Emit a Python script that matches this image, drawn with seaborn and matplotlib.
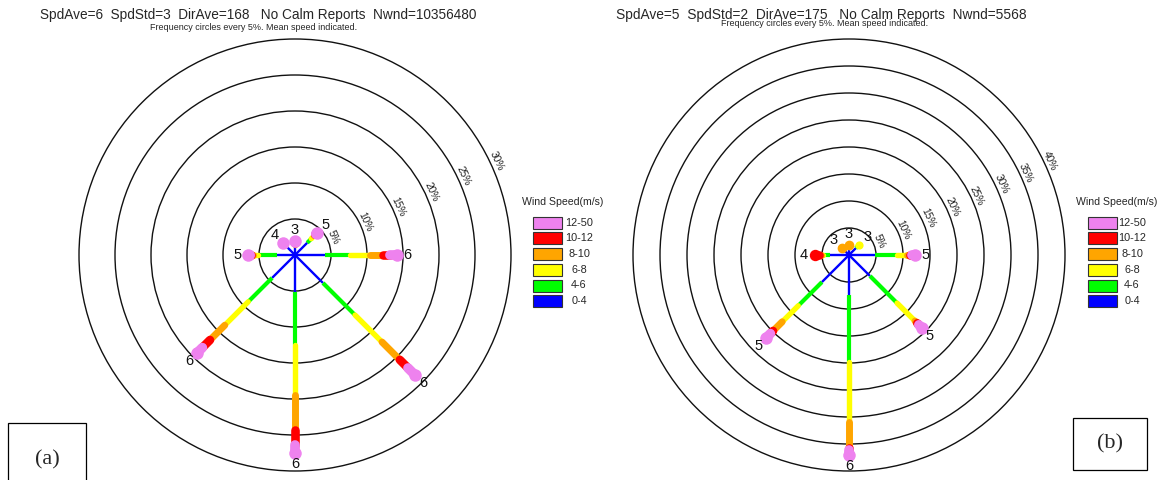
import numpy as np
import pandas as pd
import matplotlib
matplotlib.use("Agg")
import matplotlib.pyplot as plt
from matplotlib.patches import Rectangle, Circle
import seaborn as sns

sns.set_theme(style="white")
plt.rcParams["font.family"] = ["Liberation Sans", "DejaVu Sans"]

W, H = 1161, 480

# Compass directions of the arms (degrees clockwise from north)
directions = [0, 45, 90, 135, 180, 225, 270, 315]

# Speed classes (m/s) and their colours
classes = ["0-4", "4-6", "6-8", "8-10", "10-12", "12-50"]
class_colors = ["#0000ff", "#00ff00", "#ffff00", "#ffa500", "#ff0000", "#ee82ee"]

# Cumulative frequency (%) at the end of each speed class, per direction
freq_a = [
    [1.2, 1.4, 1.6, 1.7, 1.8, 2.0],       # N
    [2.4, 3.2, 3.8, 4.0, 4.1, 4.4],       # NE
    [4.2, 7.6, 10.4, 12.2, 13.2, 14.1],   # E
    [5.5, 11.8, 17.1, 20.6, 22.2, 23.6],  # SE
    [5.1, 12.5, 19.4, 24.3, 26.4, 27.5],  # S
    [4.5, 9.2, 13.8, 16.7, 18.2, 19.3],   # SW
    [2.5, 5.1, 5.8, 6.1, 6.3, 6.5],       # W
    [1.6, 1.9, 2.1, 2.2, 2.3, 2.4],       # NW
]
mean_a = [3, 5, 6, 6, 6, 6, 5, 4]

freq_b = [
    [1.2, 1.5, 1.7, 1.9, 1.9, 1.9],       # N
    [1.8, 2.4, 2.7, 2.7, 2.7, 2.7],       # NE
    [4.8, 8.9, 10.7, 11.3, 11.6, 12.2],   # E
    [5.5, 12.6, 17.3, 17.9, 18.3, 19.1],  # SE
    [7.4, 19.8, 30.9, 35.7, 36.1, 37.0],  # S
    [7.1, 13.3, 17.5, 19.9, 20.6, 21.7],  # SW
    [3.5, 4.8, 5.2, 5.5, 6.3, 6.3],       # W
    [1.2, 1.4, 1.6, 1.9, 1.9, 1.9],       # NW
]
mean_b = [3, 3, 5, 5, 6, 5, 4, 3]

rings_a = [5, 10, 15, 20, 25, 30]
rings_b = [5, 10, 15, 20, 25, 30, 35, 40]

title_a = "SpdAve=6  SpdStd=3  DirAve=168   No Calm Reports  Nwnd=10356480"
title_b = "SpdAve=5  SpdStd=2  DirAve=175   No Calm Reports  Nwnd=5568"
subtitle = "Frequency circles every 5%. Mean speed indicated."

class_widths = [1.7, 3.0, 3.9, 5.0, 6.2, 7.0]

fig = plt.figure(figsize=(W / 100, H / 100), dpi=100)


def fx(x):
    return x / W


def fy(y):
    return 1 - y / H


def rose(cx, cy, px_per_pct, freq, means, rings):
    half = 240
    ax = fig.add_axes([fx(cx - half), fy(cy + half), 2 * half / W, 2 * half / H])
    lim = half / px_per_pct

    # frequency circles with their labels
    for r in rings:
        ax.add_patch(Circle((0, 0), r, fill=False, edgecolor="#111111", lw=1.0))
        ang = np.deg2rad(25)
        rl = r + 6 / px_per_pct
        ax.text(rl * np.cos(ang), rl * np.sin(ang), f"{r}%", fontsize=7.3,
                rotation=-65, ha="center", va="center", color="#222222")

    # arms, one speed class at a time
    for d, cum, m in zip(directions, freq, means):
        th = np.deg2rad(d)
        sx, sy = np.sin(th), np.cos(th)
        prev = 0.0
        last = 0
        for k, c in enumerate(cum):
            if c > prev + 1e-9:
                cap = "butt" if k < 2 else "round"
                seg = pd.DataFrame({"x": [prev * sx, c * sx],
                                    "y": [prev * sy, c * sy]})
                sns.lineplot(data=seg, x="x", y="y", sort=False,
                             estimator=None, color=class_colors[k],
                             lw=class_widths[k], solid_capstyle=cap,
                             zorder=3 + k, ax=ax)
                last = k
            prev = c
        tip = cum[-1]
        ax.plot([tip * sx], [tip * sy], "o", color=class_colors[last],
                ms=class_widths[last] + 2.0, mec="none", zorder=10)
        rl = tip + 11 / px_per_pct
        ax.text(rl * sx, rl * sy, str(m), fontsize=10.5, ha="center",
                va="center", color="#111111", zorder=11)
    ax.set_xlim(-lim, lim)
    ax.set_ylim(-lim, lim)
    ax.set_aspect("equal")
    ax.axis("off")
    return ax


rose(295, 255, 7.2, freq_a, mean_a, rings_a)
rose(849, 255, 5.4, freq_b, mean_b, rings_b)

# headers
fig.text(fx(258), fy(15), title_a, fontsize=9.8, ha="center", va="center")
fig.text(fx(254), fy(28), subtitle, fontsize=6.5, ha="center", va="center")
fig.text(fx(821), fy(15), title_b, fontsize=9.9, ha="center", va="center")
fig.text(fx(825), fy(24), subtitle, fontsize=6.5, ha="center", va="center")


def legend(bx, title_x, label_x):
    fig.text(fx(title_x), fy(202), "Wind Speed(m/s)", fontsize=7.6,
             ha="center", va="center")
    for i, (lab, col) in enumerate(zip(classes[::-1], class_colors[::-1])):
        top = 216.7 + 15.7 * i
        fig.add_artist(Rectangle((fx(bx), fy(top + 12)), 29 / W, 12 / H,
                                 transform=fig.transFigure, facecolor=col,
                                 edgecolor="#333333", lw=0.8))
        fig.text(fx(label_x), fy(top + 6), lab, fontsize=7.8, ha="center",
                 va="center")


legend(533, 563, 579)
legend(1088, 1117, 1132)

# panel tags
for (x0, y0, w, h) in [(8, 423, 78, 60), (1073, 418, 74, 52)]:
    fig.add_artist(Rectangle((fx(x0), fy(y0 + h)), w / W, h / H,
                             transform=fig.transFigure, facecolor="none",
                             edgecolor="black", lw=0.9, clip_on=False))
fig.text(fx(47), fy(460), "(a)", fontsize=16, family="Liberation Serif",
         ha="center", va="center")
fig.text(fx(1110), fy(444), "(b)", fontsize=16, family="Liberation Serif",
         ha="center", va="center")

fig.savefig("out.png", dpi=100, facecolor="white")
